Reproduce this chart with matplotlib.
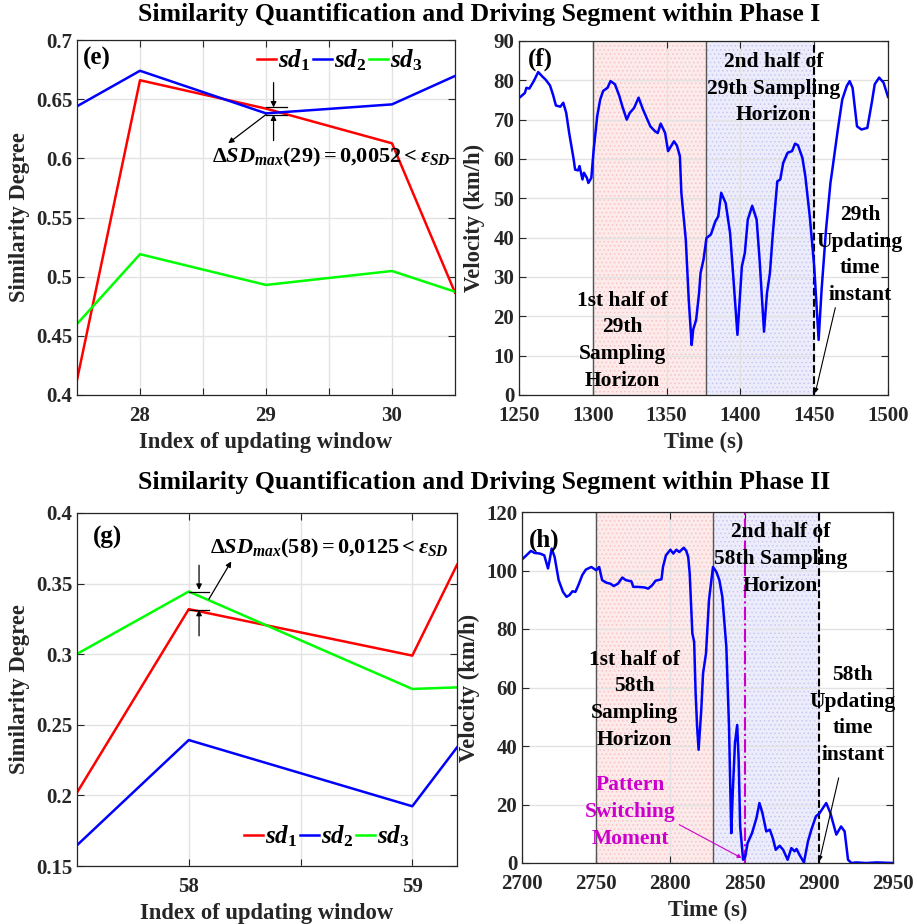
import numpy as np
import matplotlib
matplotlib.use("Agg")
from matplotlib import pyplot as plt
from matplotlib.ticker import FuncFormatter

# ---- data ----
# (e) similarity degree around the 29th updating window
win_e = [27.5, 28, 29, 30, 30.5]
sd1_e = [0.4127, 0.666, 0.642, 0.6127, 0.4865]
sd2_e = [0.644, 0.674, 0.638, 0.6456, 0.6696]
sd3_e = [0.460, 0.519, 0.493, 0.5048, 0.4873]

# (g) similarity degree around the 58th updating window
win_g = [57.5, 58, 59, 59.2]
sd1_g = [0.202, 0.3319, 0.299, 0.3633]
sd2_g = [0.1647, 0.2392, 0.1923, 0.234]
sd3_g = [0.3002, 0.3444, 0.2754, 0.2765]

# (f) velocity, phase I
t_f = [1251, 1254, 1255, 1257, 1260, 1263, 1266, 1268, 1271, 1273, 1275, 1278, 1280,
       1282, 1284, 1287, 1288, 1290, 1291, 1293, 1294, 1296, 1297, 1299, 1300.6, 1303,
       1305, 1307, 1310, 1312, 1315, 1318, 1320, 1323, 1325, 1328, 1331, 1334, 1337,
       1339, 1342, 1344, 1346, 1349, 1351, 1355, 1357, 1359, 1360, 1363, 1365, 1367,
       1368, 1370, 1372, 1373, 1375, 1377, 1380, 1383, 1385, 1387, 1390, 1393, 1395,
       1398, 1401, 1403, 1405, 1408, 1411, 1413, 1416, 1418, 1420, 1422, 1425, 1427,
       1429, 1432, 1435, 1437, 1439, 1442, 1444, 1447, 1450, 1453, 1455, 1458, 1461,
       1462, 1466, 1469, 1472, 1474, 1476, 1479, 1482, 1486, 1489, 1491, 1494, 1497, 1500]
v_f = [75.8, 76.8, 78.1, 77.9, 79.8, 82.1, 80.9, 80.2, 78.7, 76.4, 73.6, 73.3, 74.3,
       71.7, 66.6, 60.0, 57.3, 57.1, 58.2, 54.8, 56.5, 55.2, 53.9, 55.2, 62.4, 70.9,
       75.1, 77.3, 78.1, 79.8, 79.0, 76.0, 73.4, 70.0, 71.7, 73.0, 75.6, 72.6, 70.0,
       68.3, 67.1, 66.6, 69.0, 66.6, 62.0, 64.5, 63.4, 60.7, 51.4, 39.5, 24.2, 12.7,
       16.6, 19.1, 25.9, 31.0, 34.4, 39.9, 40.8, 44.1, 45.4, 51.4, 48.8, 41.2, 31.0,
       15.3, 32.7, 36.1, 44.6, 48.1, 44.6, 34.4, 16.1, 25.9, 31.0, 41.2, 54.3, 54.8,
       59.0, 61.6, 62.0, 63.9, 63.5, 60.3, 55.6, 45.4, 32.7, 14.0, 26.7, 42.0, 53.9,
       56.5, 67.5, 75.1, 78.5, 79.8, 78.1, 68.3, 67.5, 67.9, 74.3, 79.0, 80.7, 79.4, 75.8]

# (h) velocity, phase II
t_h = [2700.7, 2703, 2706, 2708.5, 2712, 2715, 2717.5, 2718.6, 2720, 2722, 2724.7, 2727.6,
       2730, 2732, 2734, 2736, 2738, 2740.6, 2743, 2746.7, 2750, 2752, 2754, 2757, 2759.5,
       2761.8, 2764.7, 2767.6, 2770, 2773.7, 2775, 2778, 2782.6, 2785, 2787.8, 2790, 2794,
       2795, 2797, 2800, 2802, 2804, 2806, 2809, 2810.7, 2812, 2813, 2814.8, 2816, 2817,
       2818, 2819, 2820.8, 2822, 2824, 2826, 2828.7, 2831, 2833, 2835, 2837.7, 2839.5,
       2841, 2842, 2843.5, 2845, 2846, 2847, 2849, 2850.5, 2852, 2855, 2858, 2860, 2862,
       2864.6, 2867, 2869, 2871, 2873.6, 2876, 2879, 2881.5, 2883.7, 2885, 2887, 2890,
       2892.7, 2895, 2898, 2900.6, 2902.8, 2905, 2907.8, 2911.8, 2915, 2917.4, 2919.7,
       2922, 2925, 2932, 2939, 2950]
v_h = [104.1, 105.2, 106.7, 106.0, 105.8, 105.2, 100.7, 103.5, 107.5, 104.6, 96.7, 92.7,
       91.0, 91.6, 92.9, 92.7, 95.0, 98.4, 100.3, 101.2, 100.1, 101.2, 96.7, 95.8, 95.5,
       94.7, 95.5, 97.6, 96.7, 96.3, 94.4, 94.4, 94.2, 93.8, 95.0, 96.5, 97.0,
       101.2, 105.2, 107.1, 105.8, 107.1, 106.3, 107.8, 106.7, 104.6, 99.0, 78.5, 75.6, 58.0,
       46.6, 38.7, 52.3, 64.8, 71.7, 89.9, 101.2, 99.5, 96.7, 91.0, 73.9, 46.6,
       10.2, 23.9, 40.9, 47.2, 35.3, 12.5, 1.1, 2.3, 6.8, 10.2, 15.4, 20.5, 17.1,
       10.8, 11.4, 8.5, 4.5, 5.9, 4.5, 1.1, 5.1, 4.0, 4.8, 2.8, 0.2,
       7.4, 11.4, 15.9, 17.1, 18.8, 20.5, 17.1, 9.7, 12.5, 10.8, 1.1,
       0.0, 0.2, 0.0, 0.2, 0.0]

# sampling horizon boundaries (s)
horizon_f = [1300, 1377, 1450]
horizon_h = [2750, 2829, 2900]
switch_h = 2850

plt.rcParams['font.family'] = ['Liberation Serif', 'DejaVu Serif']
plt.rcParams['font.weight'] = 'bold'
plt.rcParams['axes.labelweight'] = 'bold'
plt.rcParams['mathtext.fontset'] = 'custom'
plt.rcParams['mathtext.rm'] = 'Liberation Serif:bold'
plt.rcParams['mathtext.it'] = 'Liberation Serif:italic:bold'
plt.rcParams['mathtext.bf'] = 'Liberation Serif:bold'
plt.rcParams['hatch.linewidth'] = 0.6

TXT = '#262626'
W, H = 917, 924
LBL = 16.3   # axis label size
ANN = 15.5   # annotation text size
LS = 1.45    # annotation line spacing


def box(l, t, r, b):
    return [l / W, 1 - b / H, (r - l) / W, (b - t) / H]


def style(ax):
    ax.tick_params(direction='in', top=True, right=True, length=5, width=0.8,
                   labelsize=15, colors=TXT, labelcolor=TXT)
    ax.tick_params(axis='x', pad=8)
    for s in ax.spines.values():
        s.set_color(TXT)
        s.set_linewidth(0.9)
    ax.grid(True, color='#e3e3e3', linewidth=1.0)
    ax.set_axisbelow(True)
    for lab in ax.get_xticklabels() + ax.get_yticklabels():
        lab.set_fontweight('bold')


fmt = FuncFormatter(lambda v, p: '%g' % round(v, 4))
legend_kw = dict(ncol=3, frameon=False, fontsize=18, handlelength=0.75,
                 handletextpad=0.1, columnspacing=0.1, borderpad=0.1)

fig = plt.figure(figsize=(W / 100, H / 100), dpi=100)

fig.text(479 / W, 1 - 15 / H, 'Similarity Quantification and Driving Segment within Phase I',
         ha='center', va='center', fontsize=18.5, fontweight='bold')
fig.text(484 / W, 1 - 482 / H, 'Similarity Quantification and Driving Segment within Phase II',
         ha='center', va='center', fontsize=18.5, fontweight='bold')

# ---------- (e) ----------
ax = fig.add_axes(box(77, 40, 455, 395))
ax.plot(win_e, sd1_e, color='#ff0000', lw=1.8, label=r'$sd_1$')
ax.plot(win_e, sd2_e, color='#0000ff', lw=1.8, label=r'$sd_2$')
ax.plot(win_e, sd3_e, color='#00ff00', lw=1.8, label=r'$sd_3$')
ax.set_xlim(27.5, 30.5)
ax.set_ylim(0.4, 0.7)
ax.set_xticks([28, 28.5, 29, 29.5, 30])
ax.set_xticklabels(['28', '', '29', '', '30'])
ax.set_yticks(np.arange(0.4, 0.701, 0.05))
ax.yaxis.set_major_formatter(fmt)
ax.set_xlabel('Index of updating window', fontsize=LBL, color=TXT)
ax.set_ylabel('Similarity Degree', fontsize=LBL, color=TXT)
style(ax)
ax.text(27.66, 0.6845, '(e)', fontsize=18, ha='center', va='center')
ax.legend(loc='upper right', bbox_to_anchor=(0.955, 1.02), **legend_kw)
ax.plot([29.0, 29.17], [0.643, 0.643], color='k', lw=0.9)
ax.plot([29.0, 29.17], [0.637, 0.637], color='k', lw=0.9)
ap = dict(arrowstyle='-|>', color='k', lw=0.9, mutation_scale=8, shrinkA=0, shrinkB=0)
ax.annotate('', xy=(29.06, 0.643), xytext=(29.06, 0.664), arrowprops=ap)
ax.annotate('', xy=(29.06, 0.637), xytext=(29.06, 0.615), arrowprops=ap)
ax.annotate('', xy=(28.70, 0.6127), xytext=(29.0, 0.637), arrowprops=ap)
ax.text(29.52, 0.601, r'$\Delta SD_{max}(29) = 0{,}0052 < \varepsilon_{SD}$', fontsize=16,
        ha='center', va='center')

# ---------- (f) ----------
ax = fig.add_axes(box(519, 41, 888, 395))
ax.axvspan(horizon_f[0], horizon_f[1], facecolor='#fdeaea', edgecolor='#f6c4c4',
           hatch='....', lw=0, zorder=0.5)
ax.axvspan(horizon_f[1], horizon_f[2], facecolor='#ececfb', edgecolor='#c8c8f2',
           hatch='....', lw=0, zorder=0.5)
ax.axvline(horizon_f[0], color='#555555', lw=1.0)
ax.axvline(horizon_f[1], color='#555555', lw=1.0)
ax.axvline(horizon_f[2], color='k', lw=1.5, ls='--')
ax.plot(t_f, v_f, color='#0000ff', lw=1.8)
ax.set_xlim(1250, 1500)
ax.set_ylim(0, 90)
ax.set_xticks(np.arange(1250, 1501, 50))
ax.set_yticks(np.arange(0, 91, 10))
ax.set_xlabel('Time (s)', fontsize=LBL, color=TXT)
ax.set_ylabel('Velocity (km/h)', fontsize=LBL, color=TXT, labelpad=6)
style(ax)
ax.text(1264.5, 85.3, '(f)', fontsize=18, ha='center', va='center')
ax.text(1320, 13.8, '1st half of\n29th\nSampling\nHorizon', fontsize=ANN, ha='center',
        va='center', linespacing=LS)
ax.text(1422.5, 77.9, '2nd half of\n29th Sampling\nHorizon', fontsize=ANN, ha='center',
        va='center', linespacing=LS)
ax.text(1481, 35.6, '29th\nUpdating\ntime\ninstant', fontsize=ANN, ha='center',
        va='center', linespacing=LS)
ax.annotate('', xy=(1450.7, 0.5), xytext=(1464.3, 22.2),
            arrowprops=dict(arrowstyle='-|>', color='k', lw=0.8, mutation_scale=6,
                            shrinkA=0, shrinkB=0))

# ---------- (g) ----------
ax = fig.add_axes(box(77, 513, 457, 866))
ax.plot(win_g, sd1_g, color='#ff0000', lw=1.8, label=r'$sd_1$')
ax.plot(win_g, sd2_g, color='#0000ff', lw=1.8, label=r'$sd_2$')
ax.plot(win_g, sd3_g, color='#00ff00', lw=1.8, label=r'$sd_3$')
ax.set_xlim(57.5, 59.2)
ax.set_ylim(0.15, 0.4)
ax.set_xticks([58, 58.5, 59])
ax.set_xticklabels(['58', '', '59'])
ax.set_yticks(np.arange(0.15, 0.401, 0.05))
ax.yaxis.set_major_formatter(fmt)
ax.set_xlabel('Index of updating window', fontsize=LBL, color=TXT)
ax.set_ylabel('Similarity Degree', fontsize=LBL, color=TXT)
style(ax)
ax.text(57.637, 0.383, '(g)', fontsize=18, ha='center', va='center')
ax.legend(loc='lower right', bbox_to_anchor=(0.915, 0.005), **legend_kw)
ax.plot([58.0, 58.09], [0.3444, 0.3444], color='k', lw=0.9)
ax.plot([58.0, 58.09], [0.3314, 0.3314], color='k', lw=0.9)
ax.annotate('', xy=(58.046, 0.3456), xytext=(58.046, 0.363), arrowprops=ap)
ax.annotate('', xy=(58.046, 0.3314), xytext=(58.046, 0.313), arrowprops=ap)
ax.annotate('', xy=(58.19, 0.3657), xytext=(58.09, 0.339), arrowprops=ap)
ax.text(58.63, 0.375, r'$\Delta SD_{max}(58) = 0{,}0125 < \varepsilon_{SD}$', fontsize=16,
        ha='center', va='center')

# ---------- (h) ----------
ax = fig.add_axes(box(522, 512, 893, 863))
ax.axvspan(horizon_h[0], horizon_h[1], facecolor='#fdeaea', edgecolor='#f6c4c4',
           hatch='....', lw=0, zorder=0.5)
ax.axvspan(horizon_h[1], horizon_h[2], facecolor='#ececfb', edgecolor='#c8c8f2',
           hatch='....', lw=0, zorder=0.5)
ax.axvline(horizon_h[0], color='#555555', lw=1.0)
ax.axvline(horizon_h[1], color='#555555', lw=1.0)
ax.axvline(horizon_h[2], color='k', lw=1.5, ls='--')
ax.axvline(switch_h, color='#cc00cc', lw=1.5, ls='-.')
ax.plot(t_h, v_h, color='#0000ff', lw=1.8)
ax.set_xlim(2700, 2950)
ax.set_ylim(0, 120)
ax.set_xticks(np.arange(2700, 2951, 50))
ax.set_yticks(np.arange(0, 121, 20))
ax.set_xlabel('Time (s)', fontsize=LBL, color=TXT)
ax.set_ylabel('Velocity (km/h)', fontsize=LBL, color=TXT)
style(ax)
ax.text(2715, 110.3, '(h)', fontsize=18, ha='center', va='center')
ax.text(2776, 55.8, '1st half of\n58th\nSampling\nHorizon', fontsize=ANN, ha='center',
        va='center', linespacing=LS)
ax.text(2874, 104, '2nd half of\n58th Sampling\nHorizon', fontsize=ANN, ha='center',
        va='center', linespacing=LS)
ax.text(2923, 50.6, '58th\nUpdating\ntime\ninstant', fontsize=ANN, ha='center',
        va='center', linespacing=LS)
ax.annotate('', xy=(2900.4, 0.7), xytext=(2913.4, 29.1),
            arrowprops=dict(arrowstyle='-|>', color='k', lw=0.8, mutation_scale=6,
                            shrinkA=0, shrinkB=0))
ax.text(2773, 17.4, 'Pattern\nSwitching\nMoment', fontsize=ANN, ha='center',
        va='center', linespacing=LS, color='#cc00cc')
ax.annotate('', xy=(2848, 1.7), xytext=(2806, 13.1),
            arrowprops=dict(arrowstyle='-|>', color='#cc00cc', lw=0.8, mutation_scale=6,
                            shrinkA=0, shrinkB=0))

fig.savefig('out.png', dpi=100)
